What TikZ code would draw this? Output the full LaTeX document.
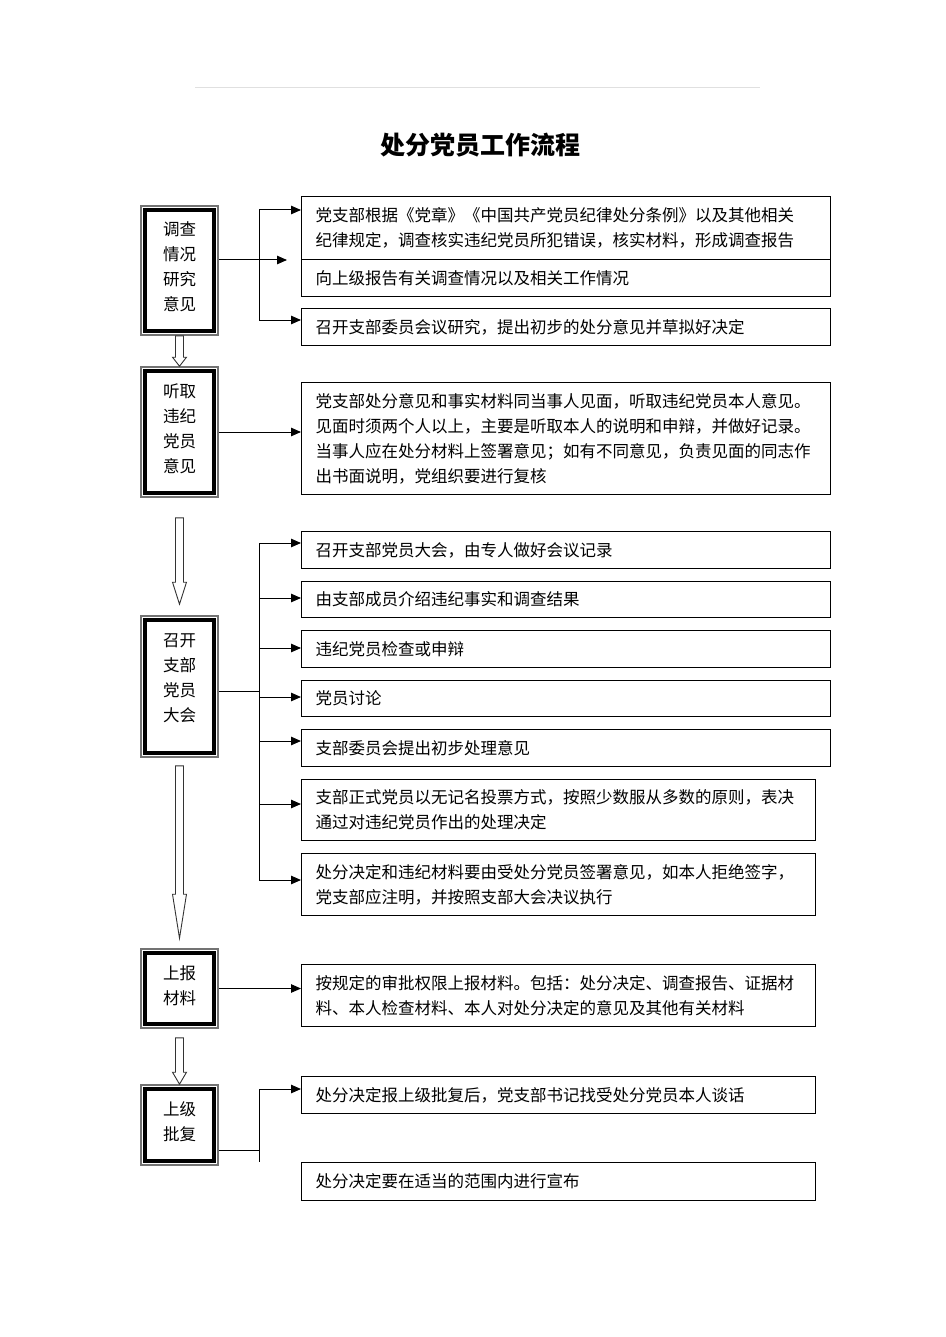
\documentclass[tikz,border=0pt]{standalone}
\usepackage{fontspec}
\setmainfont{Noto Sans CJK SC}
\usetikzlibrary{arrows.meta,calc}
\newcommand{\hollowarrow}[5]{%
  \draw[hollow] ($(#1.south)+(-4,#2)$) -- ($(#3.north)+(-4,-#4-#5)$) -- ($(#3.north)+(-7,-#4-#5)$)
    -- ($(#3.north)+(0,-#4)$) -- ($(#3.north)+(7,-#4-#5)$) -- ($(#3.north)+(4,-#4-#5)$)
    -- ($(#1.south)+(4,#2)$) -- cycle;}
\newcommand{\ltext}[2]{\parbox{60pt}{\centering #2\par\vspace{#1pt}}}
\begin{document}
\begin{tikzpicture}[x=1pt,y=-1pt,
  txt/.style={font=\fontsize{16.5}{25}\selectfont},
  lbox/.style={txt, draw=black!55, line width=1.6, minimum width=77, inner sep=0},
  rbox/.style={txt, draw=black, line width=1, anchor=north west, text width=501, inner xsep=14, inner ysep=2, align=left},
  nbox/.style={rbox, text width=486},
  arr/.style={line width=1, -{Triangle[length=10pt,width=8.5pt]}},
  cn/.style={line width=1},
  hollow/.style={draw=black!80, line width=0.9, fill=white}]
\useasboundingbox (0,0) rectangle (945,1337);
\fill[white] (0,0) rectangle (945,1337);
% header rule
\draw[black!12, line width=0.8] (195,87) -- (760,87);
\node[font=\fontsize{25}{30}\selectfont\bfseries] (title) at (480,145) {处分党员工作流程};

% left boxes
\node[lbox, minimum height=129] (L1) at (179.5,270.5) {\ltext{8}{调查\\情况\\研究\\意见}};
\node[lbox, minimum height=130] (L2) at (179.5,432) {\ltext{6}{听取\\违纪\\党员\\意见}};
\node[lbox, minimum height=141] (L3) at (179.5,686.5) {\ltext{16}{召开\\支部\\党员\\大会}};
\node[lbox, minimum height=79] (L4) at (179.5,988.5) {\ltext{6}{上报\\材料}};
\node[lbox, minimum height=80] (L5) at (179.5,1125) {\ltext{6}{上级\\批复}};
\foreach \n in {L1,L2,L3,L4,L5}
  \draw[line width=4.2] ([xshift=4.6pt,yshift=-4.6pt]\n.north west) rectangle ([xshift=-4.6pt,yshift=4.6pt]\n.south east);

% right boxes
\node[rbox, minimum height=63] (RA) at (301,196) {党支部根据《党章》《中国共产党员纪律处分条例》以及其他相关\\纪律规定，调查核实违纪党员所犯错误，核实材料，形成调查报告};
\node[rbox, minimum height=37, line width=1.3] (RB) at (301,259) {向上级报告有关调查情况以及相关工作情况};
\node[rbox, minimum height=37] (RC) at (301,308) {召开支部委员会议研究，提出初步的处分意见并草拟好决定};
\node[rbox, minimum height=112] (RD) at (301,382) {党支部处分意见和事实材料同当事人见面，听取违纪党员本人意见。\\见面时须两个人以上，主要是听取本人的说明和申辩，并做好记录。\\当事人应在处分材料上签署意见；如有不同意见，负责见面的同志作\\出书面说明，党组织要进行复核};
\node[rbox, minimum height=37] (RE) at (301,531) {召开支部党员大会，由专人做好会议记录};
\node[rbox, minimum height=36] (RF) at (301,581) {由支部成员介绍违纪事实和调查结果};
\node[rbox, minimum height=37, line width=1.3] (RG) at (301,630) {违纪党员检查或申辩};
\node[rbox, minimum height=36] (RH) at (301,680) {党员讨论};
\node[rbox, minimum height=37] (RI) at (301,729) {支部委员会提出初步处理意见};
\node[nbox, minimum height=61] (RJ) at (301,779) {支部正式党员以无记名投票方式，按照少数服从多数的原则，表决\\通过对违纪党员作出的处理决定};
\node[nbox, minimum height=62] (RK) at (301,853) {处分决定和违纪材料要由受处分党员签署意见，如本人拒绝签字，\\党支部应注明，并按照支部大会决议执行};
\node[nbox, minimum height=62] (RL) at (301,964) {按规定的审批权限上报材料。包括：处分决定、调查报告、证据材\\料、本人检查材料、本人对处分决定的意见及其他有关材料};
\node[nbox, minimum height=37] (RM) at (301,1076) {处分决定报上级批复后，党支部书记找受处分党员本人谈话};
\node[nbox, minimum height=38] (RN) at (301,1162) {处分决定要在适当的范围内进行宣布};

% hollow arrows
\hollowarrow{L1}{0}{L2}{0}{9}
\hollowarrow{L2}{20}{L3}{11}{22}
\hollowarrow{L3}{8}{L4}{10}{44}
\hollowarrow{L4}{9}{L5}{0}{12}

% group 1 connectors
\coordinate (t1) at (259,210);
\coordinate (b1) at (259,320);
\coordinate (m1) at (287,260);
\draw[arr] (L1.east |- m1) -- (m1);
\draw[cn] (t1) -- (b1);
\draw[arr] (t1) -- (RA.west |- t1);
\draw[arr] (b1) -- (RC.west |- b1);

% group 2
\draw[arr] (L2.east) -- (RD.west |- L2.east);

% group 3
\coordinate (t3) at (259,543);
\coordinate (b3) at (259,880);
\coordinate (j3) at (259,691);
\draw[cn] (t3) -- (b3);
\draw[cn] (L3.east |- j3) -- (j3);
\foreach \n/\y in {RE/543,RF/598,RG/648,RH/697,RI/741,RJ/804,RK/880}{
  \coordinate (s\n) at (259,\y);
  \draw[arr] (s\n) -- (\n.west |- s\n);
}

% group 4
\draw[arr] (L4.east) -- (RL.west |- L4.east);

% group 5
\coordinate (t5) at (259,1089);
\coordinate (b5) at (259,1162);
\coordinate (j5) at (259,1150);
\draw[cn] (L5.east |- j5) -- (j5);
\draw[cn] (t5) -- (b5);
\draw[arr] (t5) -- (RM.west |- t5);
\end{tikzpicture}
\end{document}
